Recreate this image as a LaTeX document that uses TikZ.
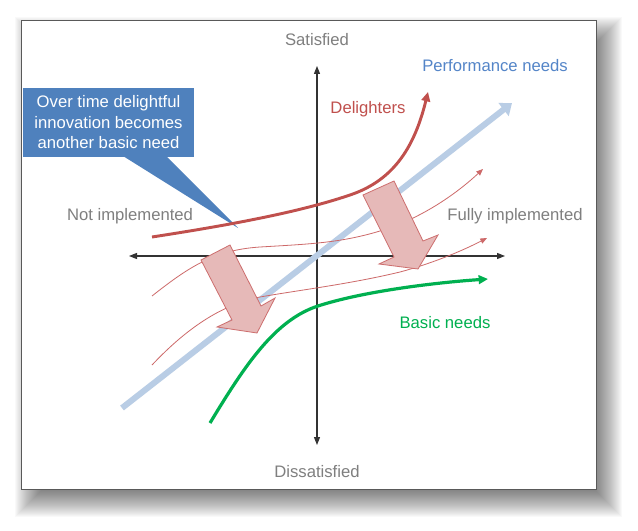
\documentclass[tikz,border=0pt]{standalone}
\usepackage{fontspec}
\setmainfont{Liberation Sans}
\usetikzlibrary{arrows.meta}
\definecolor{labgray}{HTML}{7F7F7F}
\definecolor{delred}{HTML}{C0504D}
\definecolor{thinred}{RGB}{205,105,105}
\definecolor{perfblue}{HTML}{B9CDE5}
\definecolor{perftext}{RGB}{84,133,200}
\definecolor{basicgreen}{HTML}{00B050}
\definecolor{callblue}{HTML}{4F81BD}
\definecolor{pinkfill}{HTML}{E6B9B8}
\definecolor{pinkdraw}{RGB}{205,110,110}
\tikzset{
  lab/.style={font=\fontsize{12.5}{15}\selectfont, text=labgray, inner sep=0pt},
  axisline/.style={draw=black!80, line width=0.8pt, {Triangle[length=6pt,width=4.5pt]}-{Triangle[length=6pt,width=4.5pt]}},
  delight/.style={draw=delred, line width=2.2pt, -{Triangle[length=7pt,width=6.5pt]}},
  thincurve/.style={draw=thinred, line width=0.6pt, -{Triangle[length=5pt,width=4pt]}},
  basicline/.style={draw=basicgreen, line width=2.4pt, -{Triangle[length=7pt,width=6.5pt]}},
  perfline/.style={draw=perfblue, line width=4.5pt, -{Triangle[length=8pt,width=12pt]}},
  blockarrow/.style={fill=pinkfill, draw=pinkdraw, line width=0.6pt, line join=miter},
  callout/.style={fill=callblue, text=white, align=center, inner sep=0pt,
    minimum width=128.25pt, minimum height=51.75pt,
    font=\fontsize{12.5}{15.4}\selectfont},
}
\begin{document}
\begin{tikzpicture}[x=0.75pt,y=-0.75pt]
\useasboundingbox (0,0) rectangle (638,531);
% shadow
\foreach \k in {-14,...,16} {
  \fill[black, opacity=0.025] (31-\k,33-\k) rectangle (606+\k,501+\k);
}
% frame
\fill[white] (21,21) rectangle (596,489);
\draw[black!65, line width=0.75pt] (21,21) rectangle (596,489);
% axes
\coordinate (L) at (129,256);
\coordinate (R) at (505,256);
\coordinate (T) at (317,66);
\coordinate (B) at (317,445);
\draw[axisline] (L) -- (R);
\draw[axisline] (B) -- (T);
% performance needs
\coordinate (p0) at (122,408);
\coordinate (p1) at (512,103);
\draw[perfline] (p0) -- (p1);
% thin curves
\draw[thincurve] (152,296) .. controls (190,266) and (215,250) .. (260,247)
  .. controls (310,244) and (340,243) .. (380,231)
  .. controls (420,219) and (455,195) .. (483,169);
\draw[thincurve] (152,365) .. controls (185,330) and (220,305) .. (260,297)
  .. controls (300,290) and (350,284) .. (400,272)
  .. controls (430,264) and (460,252) .. (487,238);
% basic needs
\draw[basicline] (210,423) .. controls (245,365) and (275,320) .. (318,306)
  .. controls (361,292) and (430,283) .. (488,279);
% callout
\node[callout] (note) at (108.5,122.5) {Over time delightful\\innovation becomes\\another basic need};
\coordinate (tip) at (238,228);
\fill[callblue] (123,156) -- (tip) -- (166,156) -- cycle;
% delighters
\draw[delight] (152,237) .. controls (230,225) and (300,212) .. (350,195)
  .. controls (395,180) and (415,145) .. (428,92);
% block arrows
\filldraw[blockarrow] (201,260) -- (230,245) -- (261,306) -- (275,298) -- (257,333) -- (217,327) -- (232,320) -- cycle;
\filldraw[blockarrow] (363,195) -- (394,181) -- (423,241) -- (438,235) -- (418,269) -- (379,264) -- (394,257) -- cycle;
% labels
\node[lab] (sat) at (317,40) {Satisfied};
\node[lab] (dis) at (317,472) {Dissatisfied};
\node[lab] (noti) at (130,216) {Not implemented};
\node[lab] (full) at (515,216) {Fully implemented};
\node[lab, text=perftext] (perf) at (495,66) {Performance needs};
\node[lab, text=delred] (deli) at (368,109) {Delighters};
\node[lab, text=basicgreen] (basic) at (445,323) {Basic needs};
\end{tikzpicture}
\end{document}
